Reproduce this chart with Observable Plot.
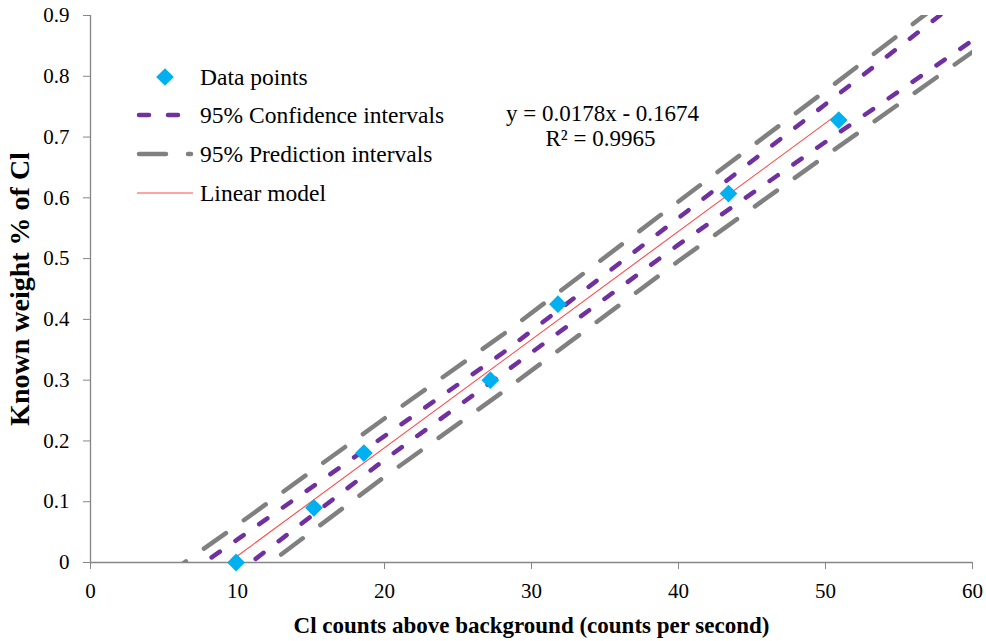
<!DOCTYPE html>
<html><head><meta charset="utf-8">
<script src="https://cdn.jsdelivr.net/npm/d3@7"></script>
<script src="https://cdn.jsdelivr.net/npm/@observablehq/plot@0.6"></script>
<style>body{margin:0;background:#fff}</style>
</head><body><div id="chart"></div>
<script>
// Data
const countsX = [9.9, 15.2, 18.6, 27.2, 31.8, 43.4, 50.9];
const weightY = [0.0, 0.09, 0.18, 0.30, 0.425, 0.607, 0.728];
const modelX = [9.9, 50.9];
const modelY = [0.009, 0.739];
const bandX = [5, 10, 20, 28, 40, 50, 60];
const ciUpper = [-0.046, 0.038, 0.208, 0.344, 0.567, 0.754, 0.942];
const ciLower = [-0.111, -0.017, 0.169, 0.310, 0.523, 0.692, 0.859];
const piUpper = [-0.024, 0.062, 0.237, 0.374, 0.594, 0.776, 0.961];
const piLower = [-0.133, -0.041, 0.141, 0.280, 0.496, 0.669, 0.840];
const xTicks = [0, 10, 20, 30, 40, 50, 60];
const yTicks = [0, 0.1, 0.2, 0.3, 0.4, 0.5, 0.6, 0.7, 0.8, 0.9];
const xTitle = "Cl counts above background (counts per second)";
const yTitle = "Known weight % of Cl";
const eqLines = ["y = 0.0178x - 0.1674", "R² = 0.9965"];
const legendLabels = ["Data points", "95% Confidence intervals", "95% Prediction intervals", "Linear model"];

const points = countsX.map((x, i) => ({x, y: weightY[i]}));
const model = modelX.map((x, i) => ({x, y: modelY[i]}));
const band = arr => bandX.map((x, i) => ({x, y: arr[i]}));

const AX = "#868686", PURPLE = "#7030A0", GRAY = "#808080", RED = "#FF4A4A", BLUE = "#00B0F0";
const FONT = "Liberation Serif";

const chart = Plot.plot({
  width: 986, height: 641,
  marginLeft: 90, marginRight: 14, marginTop: 15, marginBottom: 79,
  style: {fontFamily: FONT, fontSize: "21px", color: "#000", background: "#fff"},
  x: {domain: [0, 60]},
  y: {domain: [0, 0.9]},
  marks: [
    Plot.axisX({ticks: xTicks, tickSize: 7, tickPadding: 14, stroke: AX, label: null, tickFormat: d => String(d), fill: "#000", fontFamily: FONT, fontSize: 21}),
    Plot.axisY({ticks: yTicks, tickSize: 7, tickPadding: 14, stroke: AX, label: null, tickFormat: d => String(d), fill: "#000", fontFamily: FONT, fontSize: 21}),
    Plot.ruleY([0], {stroke: AX, strokeWidth: 1.3}),
    Plot.ruleX([0], {stroke: AX, strokeWidth: 1.3}),
    Plot.line(band(piUpper), {x: "x", y: "y", stroke: GRAY, strokeWidth: 4.5, strokeDasharray: "27,22", strokeLinecap: "round", clip: true}),
    Plot.line(band(piLower), {x: "x", y: "y", stroke: GRAY, strokeWidth: 4.5, strokeDasharray: "27,22", strokeLinecap: "round", clip: true}),
    Plot.line(band(ciUpper), {x: "x", y: "y", stroke: PURPLE, strokeWidth: 4.5, strokeDasharray: "10,19", strokeLinecap: "round", clip: true}),
    Plot.line(band(ciLower), {x: "x", y: "y", stroke: PURPLE, strokeWidth: 4.5, strokeDasharray: "10,19", strokeLinecap: "round", clip: true}),
    Plot.line(model, {x: "x", y: "y", stroke: RED, strokeWidth: 1.1}),
    Plot.dot(points, {x: "x", y: "y", symbol: "diamond2", r: 8, fill: BLUE, stroke: "none"}),
    Plot.text([xTitle], {frameAnchor: "bottom", dy: 63, fontWeight: "bold", fontSize: 23, fill: "#000", fontFamily: FONT, textAnchor: "middle", lineAnchor: "middle"}),
    Plot.text([yTitle], {frameAnchor: "left", dx: -70, rotate: -90, fontWeight: "bold", fontSize: 28, fill: "#000", fontFamily: FONT, textAnchor: "middle", lineAnchor: "middle"}),
    Plot.text([eqLines[0]], {frameAnchor: "top-left", dx: 512, dy: 98, fontSize: 23, fill: "#000", fontFamily: FONT, textAnchor: "middle", lineAnchor: "middle"}),
    Plot.text([eqLines[1]], {frameAnchor: "top-left", dx: 510, dy: 123, fontSize: 23, fill: "#000", fontFamily: FONT, textAnchor: "middle", lineAnchor: "middle"})
  ]
});
document.getElementById("chart").appendChild(chart);

// Legend (inside the plot area, top-left)
const svg = d3.select(chart);
const lg = svg.append("g").attr("font-family", FONT).attr("font-size", 23.5).attr("fill", "#000").attr("text-anchor", "start");
const rows = [77, 115, 154, 193];
lg.append("path").attr("d", d3.symbol(d3.symbolDiamond2, 200)()).attr("transform", `translate(165,${rows[0]})`).attr("fill", BLUE);
lg.append("line").attr("x1", 139).attr("x2", 180).attr("y1", rows[1]).attr("y2", rows[1])
  .attr("stroke", PURPLE).attr("stroke-width", 4.5).attr("stroke-dasharray", "10,19").attr("stroke-linecap", "round");
lg.append("line").attr("x1", 139).attr("x2", 191).attr("y1", rows[2]).attr("y2", rows[2])
  .attr("stroke", GRAY).attr("stroke-width", 4.5).attr("stroke-dasharray", "27,22").attr("stroke-linecap", "round");
lg.append("line").attr("x1", 137).attr("x2", 193).attr("y1", rows[3]).attr("y2", rows[3])
  .attr("stroke", RED).attr("stroke-width", 1.1);
legendLabels.forEach((t, i) => {
  lg.append("text").attr("x", 200).attr("y", rows[i]).attr("dy", "0.35em").attr("text-anchor", "start").text(t);
});
svg.selectAll("text").style("font-family", FONT);
</script>
</body></html>
